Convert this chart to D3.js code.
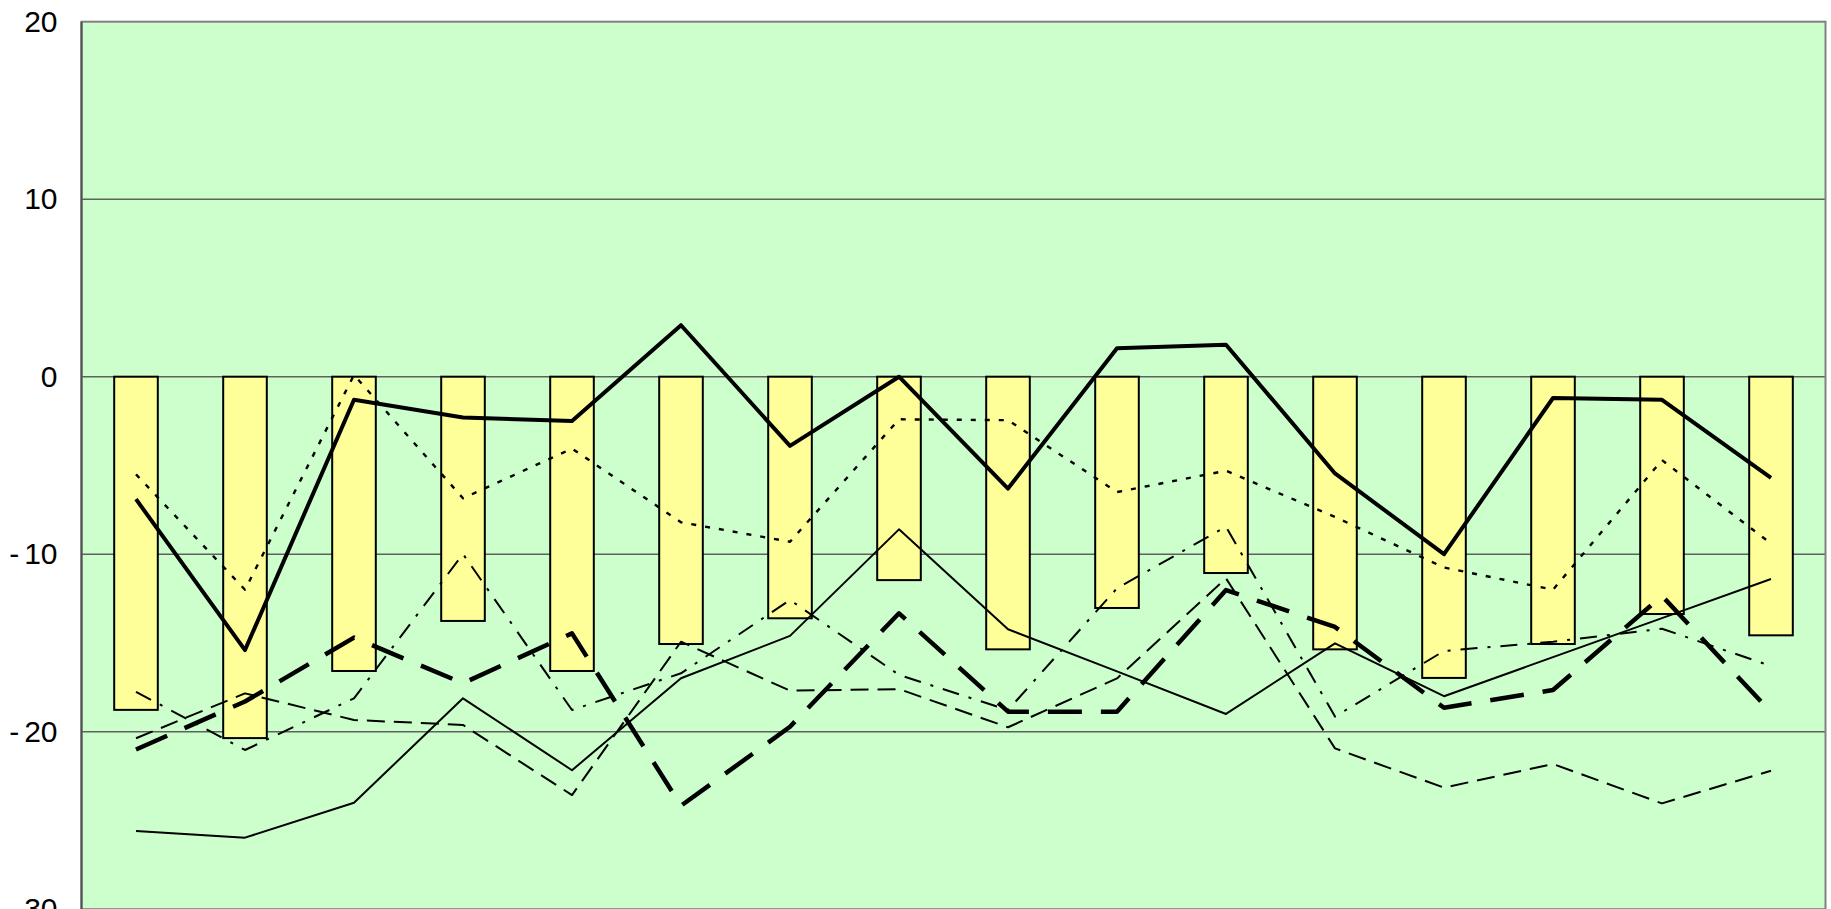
<!DOCTYPE html>
<html>
<head>
<meta charset="utf-8">
<script src="https://cdn.jsdelivr.net/npm/d3@7/dist/d3.min.js"></script>
<style>
  html, body { margin: 0; padding: 0; background: #ffffff; overflow: hidden; }
  svg { display: block; }
</style>
</head>
<body>
<svg id="chart" width="1831" height="909"></svg>
<script>
// ---- data ----
const categories = ["1","2","3","4","5","6","7","8","9","10","11","12","13","14","15","16"];
const barValues = [-18.77, -20.36, -16.58, -13.76, -16.58, -15.06, -13.61, -11.46, -15.36, -13.03, -11.06, -15.36, -16.97, -15.06, -13.37, -14.57];
const seriesThickSolid = [-6.9, -15.4, -1.3, -2.3, -2.5, 2.9, -3.9, 0.0, -6.3, 1.6, 1.8, -5.45, -10.0, -1.2, -1.3, -5.7];
const seriesDotted = [-5.5, -12.0, 0.1, -6.85, -4.05, -8.2, -9.3, -2.4, -2.45, -6.5, -5.3, -7.9, -10.75, -12.0, -4.7, -9.4];
const seriesThickDash = [-21.0, -18.3, -14.7, -17.27, -14.46, -24.17, -19.72, -13.33, -18.87, -18.87, -12.02, -14.1, -18.65, -17.65, -12.35, -18.9];
const seriesDashDot = [-17.75, -21.03, -18.12, -9.99, -18.78, -16.71, -12.58, -16.8, -18.78, -11.92, -8.45, -19.15, -15.45, -14.93, -14.2, -16.3];
const seriesDash = [-20.37, -17.84, -19.34, -19.62, -23.57, -14.93, -17.69, -17.6, -19.75, -17.0, -11.36, -20.94, -23.15, -21.82, -24.04, -22.2];
const seriesThinSolid = [-25.6, -25.97, -24.0, -18.12, -22.17, -16.99, -14.6, -8.6, -14.23, -16.6, -19.0, -15.02, -18.0, -15.8, -13.6, -11.4];
const yTicks = [20, 10, 0, -10, -20, -30];
const yDomain = [-30, 20];

// ---- layout ----
const plotL = 81.5, plotR = 1825.5, plotT = 21.7, plotB = 909.2;
const svg = d3.select("#chart");

const x = d3.scaleBand().domain(categories).range([plotL, plotR]).paddingInner(0.6).paddingOuter(0.3);
const y = d3.scaleLinear().domain(yDomain).range([plotB, plotT]);
const cx = c => x(c) + x.bandwidth() / 2;

// plot background
svg.append("rect").attr("x", plotL).attr("y", plotT).attr("width", plotR - plotL).attr("height", plotB - plotT)
  .attr("fill", "#CCFFCC");

// gridlines
svg.append("g").selectAll("line").data(yTicks.filter(t => t !== 20 && t !== -30)).join("line")
  .attr("x1", plotL).attr("x2", plotR).attr("y1", d => y(d)).attr("y2", d => y(d))
  .attr("stroke", "#606060").attr("stroke-width", 1.4);

// bars
svg.append("g").selectAll("rect").data(barValues).join("rect")
  .attr("x", (d, i) => x(categories[i]))
  .attr("width", x.bandwidth())
  .attr("y", d => y(Math.max(0, d)))
  .attr("height", d => Math.abs(y(d) - y(0)))
  .attr("fill", "#FFFF99").attr("stroke", "#000").attr("stroke-width", 2);

// lines
const lineGen = d3.line().x((d, i) => cx(categories[i])).y(d => y(d));
const lineSpecs = [
  { data: seriesThinSolid, width: 2, dash: null },
  { data: seriesDash, width: 2, dash: "18,9" },
  { data: seriesDashDot, width: 2, dash: "17,10,3,10" },
  { data: seriesThickDash, width: 4.5, dash: "34,19" },
  { data: seriesDotted, width: 2.4, dash: "5,9" },
  { data: seriesThickSolid, width: 4, dash: null }
];
svg.append("g").selectAll("path").data(lineSpecs).join("path")
  .attr("d", s => lineGen(s.data))
  .attr("fill", "none").attr("stroke", "#000")
  .attr("stroke-width", s => s.width)
  .attr("stroke-dasharray", s => s.dash)
  .attr("stroke-linejoin", "round");

// plot border
svg.append("rect").attr("x", plotL).attr("y", plotT).attr("width", plotR - plotL).attr("height", plotB - plotT)
  .attr("fill", "none").attr("stroke", "#808080").attr("stroke-width", 2);
svg.append("line").attr("x1", plotL).attr("x2", plotL).attr("y1", plotT).attr("y2", plotB)
  .attr("stroke", "#505050").attr("stroke-width", 2);

// y axis labels via d3 axis
const yAxis = d3.axisLeft(y).tickValues(yTicks).tickSize(0).tickPadding(24).tickFormat(d => String(d));
const ax = svg.append("g").attr("transform", `translate(${plotL},0)`).call(yAxis);
ax.select(".domain").remove();
ax.selectAll("text")
  .attr("font-family", "'Liberation Sans', Arial, sans-serif")
  .attr("font-size", 30)
  .attr("fill", "#000")
  .each(function(d) {
    if (d < 0) {
      const t = d3.select(this);
      t.text(null);
      t.append("tspan").text("-");
      t.append("tspan").attr("dx", 5).text(String(Math.abs(d)));
    }
  });
</script>
</body>
</html>
